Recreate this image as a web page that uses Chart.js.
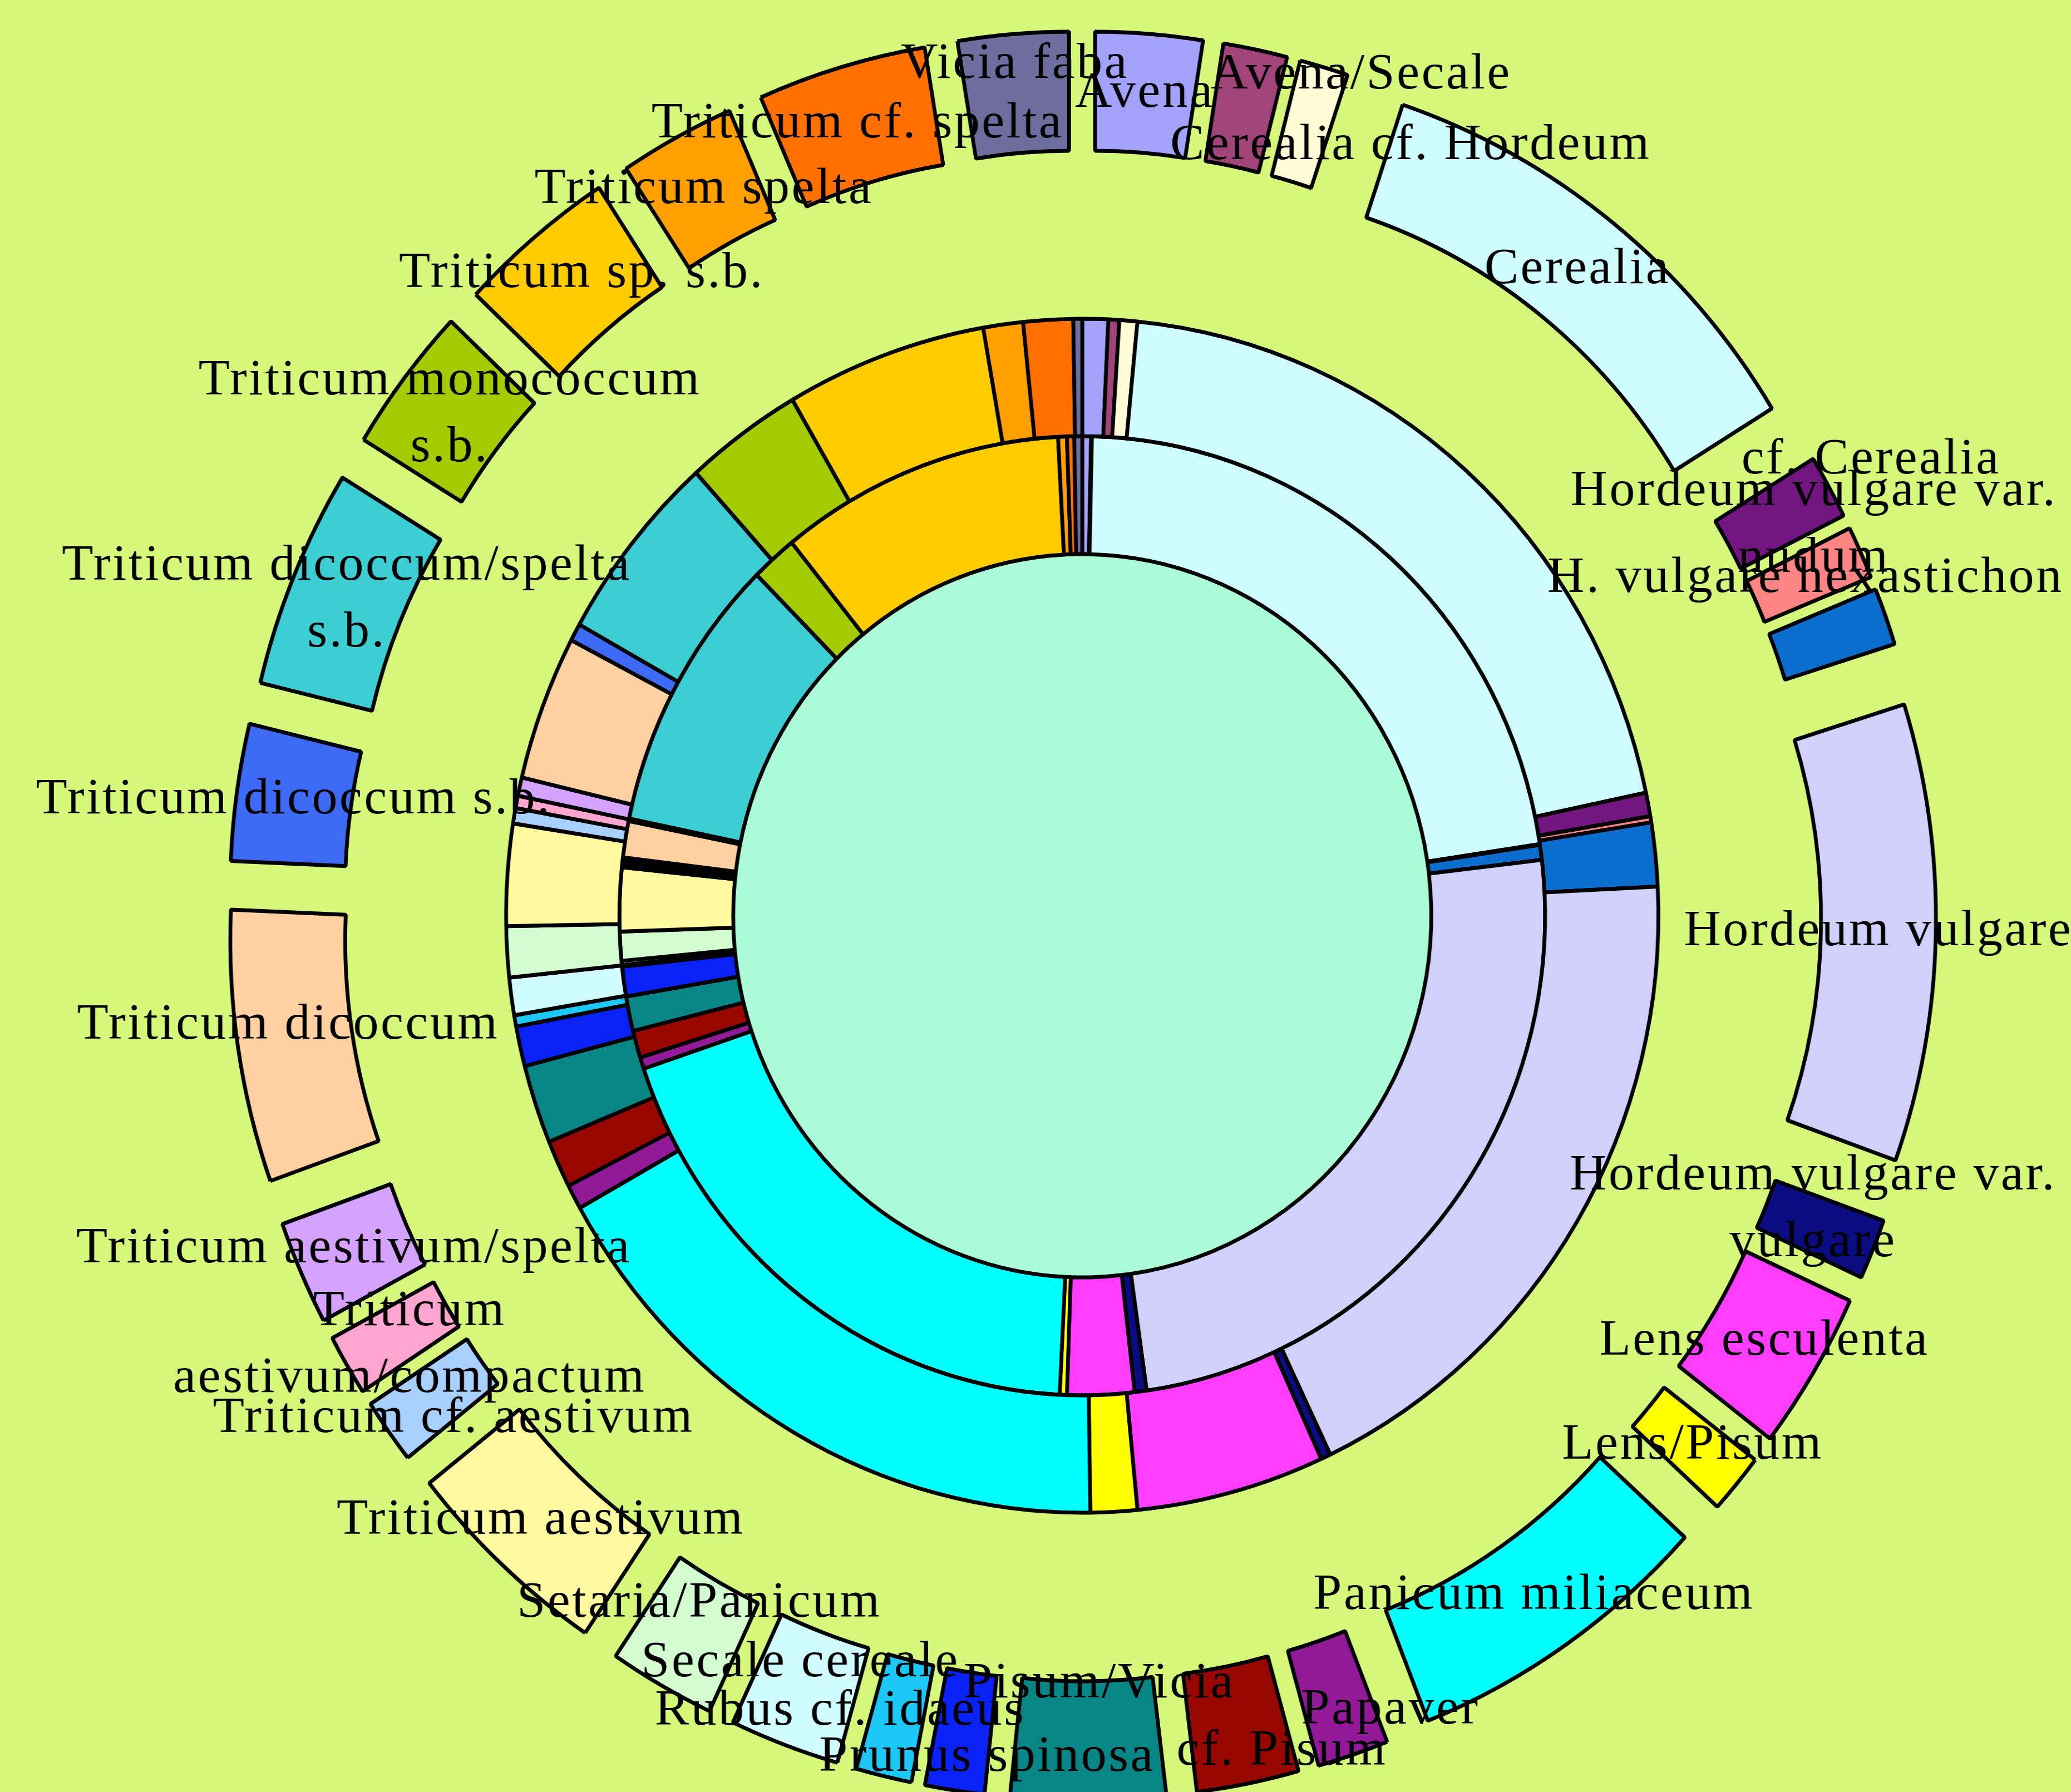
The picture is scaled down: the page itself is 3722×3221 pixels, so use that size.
<!DOCTYPE html>
<html>
<head>
<meta charset="utf-8">
<script src="https://cdn.jsdelivr.net/npm/chart.js@4/dist/chart.umd.min.js"></script>
<style>
  html, body { margin: 0; padding: 0; width: 3722px; height: 3221px; overflow: hidden; background: #D5F87B; }
  #wrap { position: absolute; left: -55px; top: 0; width: 4000px; height: 3221px;
          transform: scaleX(0.965); transform-origin: 2000px 0; }
</style>
</head>
<body>
<div id="wrap"><canvas id="c" width="4000" height="3221"></canvas></div>
<script>
// ---------------- DATA ----------------
const categories = [
  "Avena", "Avena/Secale", "Cerealia cf. Hordeum", "Cerealia", "cf. Cerealia",
  "Hordeum vulgare var. nudum", "H. vulgare hexastichon", "Hordeum vulgare",
  "Hordeum vulgare var. vulgare", "Lens esculenta", "Lens/Pisum", "Panicum miliaceum",
  "Papaver", "cf. Pisum", "Pisum/Vicia", "Prunus spinosa", "Rubus cf. idaeus",
  "Secale cereale", "Setaria/Panicum", "Triticum aestivum", "Triticum cf. aestivum",
  "Triticum aestivum/compactum", "Triticum aestivum/spelta", "Triticum dicoccum",
  "Triticum dicoccum s.b.", "Triticum dicoccum/spelta s.b.", "Triticum monococcum s.b.",
  "Triticum sp. s.b.", "Triticum spelta", "Triticum cf. spelta", "Vicia faba"
];

// outer (exploded) ring
const outerRing = [9.0, 5.4, 4.1, 39.9, 5.2, 4.3, 4.65, 37.15, 4.9, 12.9, 4.9, 26.1,
  6.0, 8.6, 13.0, 5.0, 4.7, 9.25, 8.95, 17.7, 5.3, 4.95, 8.45, 22.1, 11.1, 17.85,
  11.95, 13.35, 9.75, 14.2, 9.3];

// middle ring
const middleRing = [2.6, 1.1, 1.8, 72.6, 2.3, 0.6, 6.2, 67.3, 1.0, 19.0, 4.7, 61.5,
  2.4, 4.65, 7.65, 3.9, 1.1, 3.65, 4.95, 9.9, 1.5, 1.2, 1.8, 14.1, 1.7, 18.7,
  11.9, 20.3, 4.0, 5.0, 0.9];

// inner ring
const innerRing = [1.1, 0.05, 0.05, 80.2, 0.05, 0.05, 1.8, 88.7, 1.5, 8.4, 0.9, 68.6,
  1.4, 3.3, 4.2, 3.6, 0.2, 0.5, 3.5, 7.7, 0.4, 0.4, 0.4, 4.4, 0.3, 33.6,
  5.8, 35.9, 1.1, 0.9, 1.0];

// centre disc
const centreValues = [100];

// ---------------- STYLE ----------------
const sliceColors = [
  "#A3A3FB", "#A0447A", "#FFFBD6", "#CFFDFF", "#741682", "#FF8484", "#0B6ECF", "#D0D0FA",
  "#0B0B82", "#FF3DFF", "#FFFF00", "#00FFFF", "#921A98", "#990800", "#088585", "#0A22F5",
  "#1CC8F5", "#D0FCFF", "#D3FDD0", "#FFFAA0", "#A8D0FF", "#FFA6D0", "#D6A2FF", "#FFD0A0",
  "#3C6AF5", "#3CCED2", "#A3CC00", "#FFCC00", "#FFA000", "#FF7000", "#6E6E9E"
];
const centreColor = "#AAFBD6";
const labelNudge = [
  [0,0],[211,-59],[185,38],[0,0],[166,-100],[10,-93],[-47,-104],[0,0],[-12,-31],[0,0],
  [0,0],[0,0],[100,21],[81,47],[21,-102],[43,47],[-102,-12],[-7,-47],[17,-55],[0,0],
  [33,40],[24,19],[0,0],[-12,-24],[0,0],[0,0],[0,0],[19,-17],[0,0],[0,0],[-5,-52]
];

const SQX = 0.965;          // horizontal squeeze of the original picture
const R_CENTRE = 650, R_INNER = 862, R_MIDDLE = 1073, R_OUTER = 1287;
const EXPLODE = 303;
const FONT_SIZE = 92, LETTER_SP = 3.5, LINE_H = 120, WRAP_W = 1050;
const BORDER = 7;

function wrapText(ctx, text, maxW) {
  const words = text.split(' ');
  const lines = [];
  let cur = '';
  for (const w of words) {
    const t = cur ? cur + ' ' + w : w;
    if (cur && ctx.measureText(t).width > maxW) { lines.push(cur); cur = w; }
    else cur = t;
  }
  if (cur) lines.push(cur);
  return lines;
}

const explodePlugin = {
  id: 'explode',
  beforeDatasetDraw(chart, args) {
    if (args.index !== 0) return;
    const ctx = chart.ctx;
    args.meta.data.forEach(arc => {
      const mid = (arc.startAngle + arc.endAngle) / 2;
      ctx.save();
      ctx.translate(Math.cos(mid) * EXPLODE, Math.sin(mid) * EXPLODE);
      arc.draw(ctx);
      ctx.restore();
    });
    return false;
  }
};

const labelPlugin = {
  id: 'sliceLabels',
  afterDatasetsDraw(chart) {
    const ctx = chart.ctx;
    const meta = chart.getDatasetMeta(0);
    ctx.save();
    ctx.font = FONT_SIZE + 'px "Liberation Serif", "Times New Roman", serif';
    if ('letterSpacing' in ctx) ctx.letterSpacing = LETTER_SP + 'px';
    ctx.fillStyle = '#000';
    ctx.textAlign = 'center';
    ctx.textBaseline = 'middle';
    meta.data.forEach((arc, i) => {
      const mid = (arc.startAngle + arc.endAngle) / 2;
      const r = (arc.innerRadius + arc.outerRadius) / 2 + EXPLODE;
      const x = arc.x + Math.cos(mid) * r + labelNudge[i][0] / SQX;
      const y = arc.y + Math.sin(mid) * r + labelNudge[i][1];
      const lines = wrapText(ctx, categories[i], WRAP_W);
      lines.forEach((ln, k) => {
        ctx.save();
        ctx.translate(x, y + (k - (lines.length - 1) / 2) * LINE_H);
        ctx.scale(1 / SQX, 1);
        ctx.fillText(ln, 0, 0);
        ctx.restore();
      });
    });
    ctx.restore();
  }
};

const ringStyle = { backgroundColor: sliceColors, borderColor: '#000', borderWidth: BORDER };

new Chart(document.getElementById('c'), {
  type: 'doughnut',
  data: {
    labels: categories,
    datasets: [
      Object.assign({ label: 'outer', data: outerRing, weight: R_OUTER - R_MIDDLE }, ringStyle),
      Object.assign({ label: 'middle', data: middleRing, weight: R_MIDDLE - R_INNER }, ringStyle),
      Object.assign({ label: 'inner', data: innerRing, weight: R_INNER - R_CENTRE }, ringStyle),
      { label: 'centre', data: centreValues, weight: R_CENTRE, backgroundColor: centreColor, borderWidth: 0 }
    ]
  },
  options: {
    responsive: false,
    devicePixelRatio: 1,
    animation: false,
    events: [],
    radius: R_OUTER,
    cutout: 0,
    layout: { padding: { top: 71, left: 0, right: 0, bottom: 0 } },
    plugins: { legend: { display: false }, tooltip: { enabled: false } }
  },
  plugins: [explodePlugin, labelPlugin]
});
</script>
</body>
</html>
